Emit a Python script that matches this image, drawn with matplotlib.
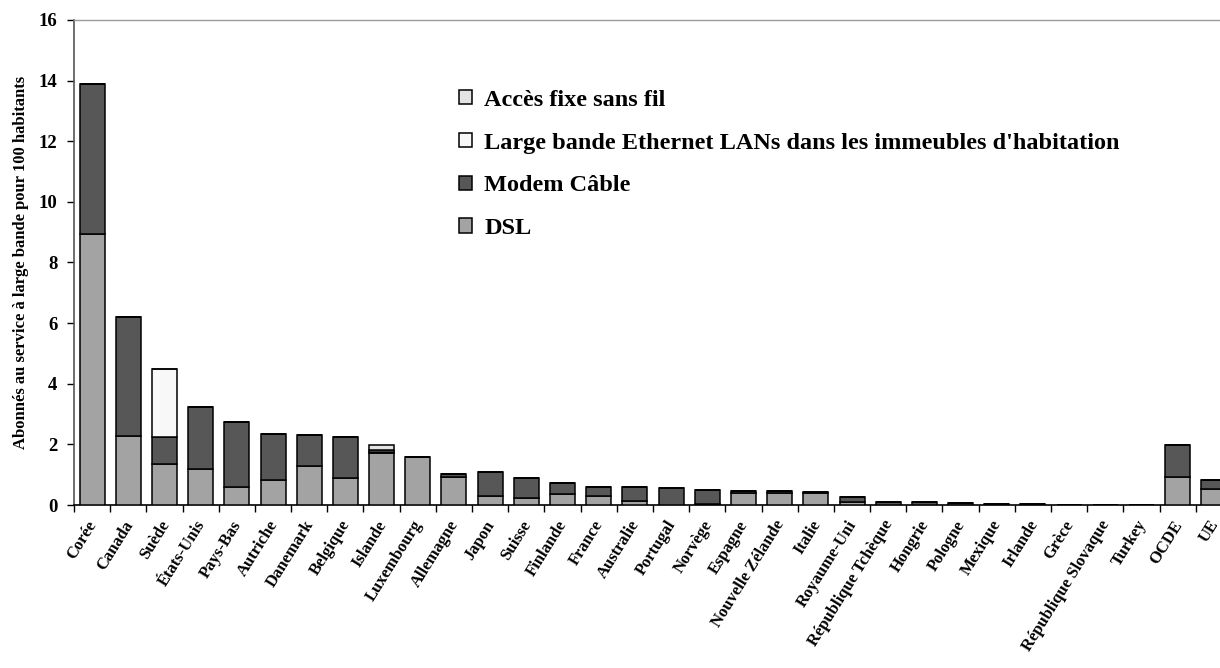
import matplotlib
matplotlib.use("Agg")
import matplotlib.pyplot as plt
import numpy as np

plt.rcParams['font.family'] = ['Liberation Serif', 'DejaVu Serif']
plt.rcParams['font.weight'] = 'bold'

pays = ["Corée", "Canada", "Suède", "États-Unis", "Pays-Bas", "Autriche", "Danemark",
        "Belgique", "Islande", "Luxembourg", "Allemagne", "Japon", "Suisse", "Finlande",
        "France", "Australie", "Portugal", "Norvège", "Espagne", "Nouvelle Zélande",
        "Italie", "Royaume-Uni", "République Tchèque", "Hongrie", "Pologne", "Mexique",
        "Irlande", "Grèce", "République Slovaque", "Turkey", "OCDE", "UE"]

dsl = [8.95, 2.29, 1.36, 1.20, 0.59, 0.84, 1.30, 0.89, 1.70, 1.60, 0.94, 0.30, 0.24,
       0.35, 0.29, 0.13, 0.00, 0.02, 0.39, 0.41, 0.40, 0.09, 0.00, 0.01, 0.00, 0.00,
       0.01, 0.00, 0.00, 0.00, 0.94, 0.52]
cable = [4.93, 3.92, 0.89, 2.02, 2.14, 1.51, 1.01, 1.36, 0.05, 0.00, 0.09, 0.79, 0.65,
         0.38, 0.30, 0.45, 0.57, 0.48, 0.07, 0.05, 0.04, 0.18, 0.11, 0.09, 0.07, 0.03,
         0.01, 0.00, 0.00, 0.00, 1.04, 0.30]
ethernet = [0.00, 0.00, 2.24, 0.00, 0.00, 0.00, 0.00, 0.00, 0.05, 0.00, 0.00, 0.00, 0.00,
            0.00, 0.00, 0.00, 0.00, 0.00, 0.00, 0.00, 0.00, 0.00, 0.00, 0.00, 0.00, 0.00,
            0.00, 0.00, 0.00, 0.00, 0.00, 0.00]
sans_fil = [0.00, 0.00, 0.00, 0.00, 0.00, 0.00, 0.00, 0.00, 0.18, 0.00, 0.00, 0.00, 0.00,
            0.00, 0.00, 0.00, 0.00, 0.00, 0.00, 0.00, 0.00, 0.00, 0.00, 0.00, 0.00, 0.00,
            0.00, 0.00, 0.00, 0.00, 0.00, 0.00]

series = [
    ("DSL", dsl, "#a3a3a3"),
    ("Modem Câble", cable, "#575757"),
    ("Large bande Ethernet LANs dans les immeubles d'habitation", ethernet, "#f8f8f8"),
    ("Accès fixe sans fil", sans_fil, "#e4e4e4"),
]

fig = plt.figure(figsize=(12.2, 6.68), dpi=100)
ax = fig.add_axes([74 / 1220, 163 / 668, 1158 / 1220, 485 / 668])

x = np.arange(len(pays))
bottom = np.zeros(len(pays))
handles = []
for name, vals, color in series:
    v = np.array(vals)
    b = ax.bar(x, v, 0.69, bottom=bottom, color=color, edgecolor="black",
               linewidth=1.1, label=name, zorder=3)
    handles.append(b)
    bottom += v

ax.set_xlim(-0.5, len(pays) - 0.5)
ax.set_ylim(0, 16)
ax.set_yticks(np.arange(0, 17, 2))
ax.tick_params(axis='y', labelsize=13.5, length=5, width=1, direction='out', pad=7)
for lbl in ax.get_yticklabels():
    lbl.set_fontweight('bold')

# category labels sit slightly left of the bar centres; boundary ticks are minor
ax.set_xticks(x - 0.15)
ax.set_xticklabels(pays, rotation=58, ha='right', rotation_mode='anchor',
                   fontsize=12, fontweight='bold')
ax.tick_params(axis='x', which='major', length=0, pad=9)
ax.set_xticks(np.arange(-0.5, len(pays), 1), minor=True)
ax.tick_params(axis='x', which='minor', length=5, width=1, direction='out')

ax.set_ylabel("Abonnés au service à large bande pour 100 habitants",
              fontsize=12, fontweight='bold', labelpad=7)

for side in ('top', 'right'):
    ax.spines[side].set_color('#9a9a9a')
    ax.spines[side].set_linewidth(1)
ax.spines['left'].set_color('#555555')
ax.spines['left'].set_linewidth(1.2)
ax.spines['bottom'].set_color('black')
ax.spines['bottom'].set_linewidth(1.2)

leg = ax.legend(handles=handles[::-1], loc='upper left',
                bbox_to_anchor=(375 / 1158, (485 - 60) / 485),
                frameon=False, prop={'weight': 'bold', 'size': 17.5},
                handlelength=0.55, handleheight=0.55, handletextpad=0.5,
                labelspacing=0.9, borderaxespad=0)

fig.savefig("out.png", dpi=100)
